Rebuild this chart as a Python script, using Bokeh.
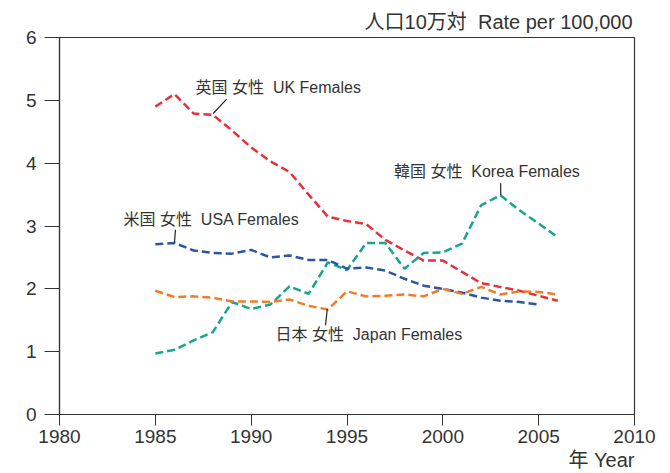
from bokeh.plotting import figure
from bokeh.models import Label, Range1d, FixedTicker, ColumnDataSource, Title
from bokeh.embed import file_html
from bokeh.resources import INLINE

FONT = "'Liberation Sans', 'Noto Sans CJK JP', sans-serif"

years = list(range(1985, 2007))
uk = [4.90, 5.10, 4.79, 4.77, 4.52, 4.25, 4.03, 3.86, 3.50, 3.15, 3.08, 3.03,
      2.78, 2.61, 2.45, 2.45, 2.27, 2.09, 2.03, 1.97, 1.89, 1.81]
korea = [0.97, 1.03, 1.18, 1.31, 1.79, 1.68, 1.75, 2.04, 1.92, 2.42, 2.30, 2.73,
         2.73, 2.32, 2.57, 2.58, 2.72, 3.33, 3.49, 3.25, 3.04, 2.82]
usa_years = list(range(1985, 2006))
usa = [2.71, 2.73, 2.61, 2.57, 2.56, 2.62, 2.50, 2.53, 2.46, 2.46, 2.32, 2.34,
       2.29, 2.16, 2.05, 2.00, 1.94, 1.86, 1.81, 1.79, 1.75]
japan = [1.97, 1.87, 1.88, 1.86, 1.80, 1.80, 1.79, 1.83, 1.73, 1.67, 1.96, 1.88,
         1.89, 1.91, 1.88, 2.00, 1.92, 2.03, 1.91, 1.96, 1.95, 1.91]

x_ticks = [1980, 1985, 1990, 1995, 2000, 2005, 2010]
y_ticks = [0, 1, 2, 3, 4, 5, 6]

NB = "\u00a0"
series_labels = ["英国 女性" + NB + NB + "UK Females",
                 "米国 女性" + NB + NB + "USA Females",
                 "韓国 女性" + NB + NB + "Korea Females",
                 "日本 女性" + NB + NB + "Japan Females"]
y_unit_label = "人口10万対" + NB + NB + "Rate per 100,000"
x_unit_label = "年 Year"

RED = "#e8303a"
BLUE = "#2c55a5"
ORANGE = "#f07c28"
TEAL = "#16a58d"
TXT = "#333333"

p = figure(width=670, height=473, output_backend="svg", toolbar_location=None,
           x_range=Range1d(1980, 2010), y_range=Range1d(0, 6),
           min_border_left=59, min_border_right=36, min_border_top=37,
           min_border_bottom=59)
p.outline_line_color = "#333333"
p.outline_line_width = 1.2
p.grid.visible = False
p.background_fill_color = "white"
p.border_fill_color = "white"

for ax in (p.xaxis[0], p.yaxis[0]):
    ax.axis_line_color = "#333333"
    ax.axis_line_width = 1.2
    ax.major_tick_line_color = "#333333"
    ax.major_tick_line_width = 1
    ax.major_tick_in = 0
    ax.minor_tick_line_color = None
    ax.major_label_text_font = FONT
    ax.major_label_text_font_size = "19px"
    ax.major_label_text_color = TXT
p.xaxis[0].ticker = FixedTicker(ticks=x_ticks)
p.yaxis[0].ticker = FixedTicker(ticks=y_ticks)
p.xaxis[0].major_tick_out = 11
p.yaxis[0].major_tick_out = 15
p.xaxis[0].major_label_standoff = 4
p.yaxis[0].major_label_standoff = 8

dash = "8 4"
p.line(years, uk, line_color=RED, line_width=2.5, line_dash=dash)
p.line(years, korea, line_color=TEAL, line_width=2.5, line_dash=dash)
p.line(usa_years, usa, line_color=BLUE, line_width=2.5, line_dash=dash)
p.line(years, japan, line_color=ORANGE, line_width=2.5, line_dash=dash)

# series labels
label_pos = [(1987.10, 5.21), (1983.34, 3.10), (1997.45, 3.86), (1991.27, 1.27)]
for (lx, ly), t in zip(label_pos, series_labels):
    p.add_layout(Label(x=lx, y=ly, text=t, text_font=FONT, text_font_size="16px",
                       text_color=TXT, text_align="left", text_baseline="middle"))

# leader lines
seg = ColumnDataSource(dict(
    x0=[1988.02, 1986.05, 2003.02, 1993.97],
    y0=[4.79, 2.94, 3.68, 1.68],
    x1=[1988.72, 1986.00, 2003.02, 1993.88],
    y1=[5.02, 2.74, 3.49, 1.42]))
p.segment("x0", "y0", "x1", "y1", source=seg, line_color="#222222", line_width=1.2)

# unit labels as titles
top_title = Title(text=y_unit_label, align="right", text_font=FONT,
                  text_font_size="20px", text_color=TXT, text_font_style="normal",
                  standoff=9, offset=2)
p.add_layout(top_title, "above")
bottom_title = Title(text=x_unit_label, align="right", text_font=FONT,
                     text_font_size="20px", text_color=TXT, text_font_style="normal",
                     standoff=2, offset=0)
p.add_layout(bottom_title, "below")

open("out.html", "w").write(file_html(p, INLINE))
